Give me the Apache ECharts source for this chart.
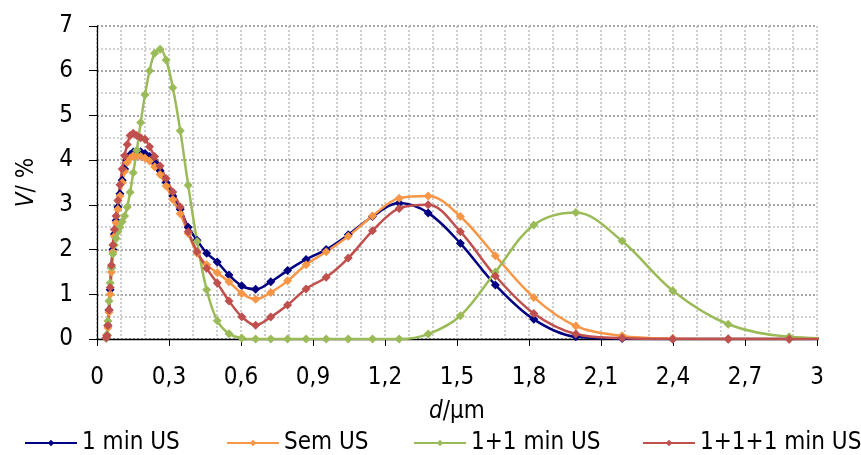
<!DOCTYPE html>
<html>
<head>
<meta charset="utf-8">
<script src="https://cdn.jsdelivr.net/npm/echarts@6/dist/echarts.min.js"></script>
<style>
  html, body { margin: 0; padding: 0; background: #fff; }
  #chart { width: 861px; height: 455px; }
</style>
</head>
<body>
<div id="chart"></div>
<script>
// Particle size classes (µm), logarithmically spaced
const sizes = [0.038, 0.0417, 0.0457, 0.0501, 0.055, 0.0603, 0.0661, 0.0724, 0.0794, 0.0871,
  0.0955, 0.105, 0.115, 0.126, 0.138, 0.151, 0.166, 0.182, 0.2, 0.219,
  0.24, 0.263, 0.288, 0.316, 0.347, 0.38, 0.417, 0.457, 0.501, 0.55,
  0.603, 0.661, 0.724, 0.794, 0.871, 0.955, 1.047, 1.148, 1.259, 1.38,
  1.514, 1.66, 1.82, 1.995, 2.188, 2.399, 2.63, 2.884, 3.162];

// Volume fractions V (%) per size class
const oneMinUS = [0.02, 0.08, 0.3, 0.65, 1.1, 1.6, 2.0, 2.35, 2.65, 2.95,
  3.25, 3.55, 3.8, 4.0, 4.12, 4.18, 4.2, 4.19, 4.15, 4.08,
  3.95, 3.76, 3.5, 3.2, 2.9, 2.5, 2.21, 1.92, 1.72, 1.43,
  1.19, 1.11, 1.28, 1.53, 1.78, 2.0, 2.33, 2.74, 3.04, 2.82,
  2.14, 1.21, 0.44, 0.05, 0.01, 0, 0, 0, 0];

const semUS = [0.02, 0.07, 0.25, 0.6, 1.0, 1.5, 1.95, 2.3, 2.6, 2.9,
  3.2, 3.5, 3.75, 3.95, 4.05, 4.1, 4.1, 4.08, 4.05, 3.98,
  3.85, 3.68, 3.42, 3.12, 2.8, 2.36, 1.92, 1.66, 1.48, 1.28,
  1.02, 0.89, 1.04, 1.3, 1.66, 1.95, 2.3, 2.75, 3.15, 3.2,
  2.74, 1.86, 0.93, 0.29, 0.07, 0.01, 0, 0, 0];

const twoMinUS = [0.02, 0.1, 0.4, 0.85, 1.25, 1.6, 1.9, 2.1, 2.25, 2.4,
  2.5, 2.62, 2.75, 2.95, 3.28, 3.72, 4.22, 4.84, 5.46, 6.0,
  6.39, 6.48, 6.24, 5.62, 4.66, 3.44, 2.18, 1.1, 0.41, 0.12,
  0.02, 0, 0, 0, 0, 0, 0, 0, 0, 0.11,
  0.52, 1.5, 2.55, 2.83, 2.19, 1.08, 0.33, 0.05, 0.01];

const threeMinUS = [0.03, 0.08, 0.3, 0.65, 1.15, 1.65, 2.1, 2.45, 2.75, 3.1,
  3.45, 3.8, 4.1, 4.35, 4.55, 4.6, 4.55, 4.5, 4.47, 4.3,
  4.08, 3.87, 3.59, 3.29, 2.95, 2.4, 1.95, 1.58, 1.25, 0.85,
  0.5, 0.31, 0.49, 0.76, 1.12, 1.38, 1.81, 2.42, 2.92, 3.0,
  2.4, 1.41, 0.57, 0.11, 0.02, 0, 0, 0, 0];

const seriesNames = ['1 min US', 'Sem US', '1+1 min US', '1+1+1 min US'];
const seriesValues = [oneMinUS, semUS, twoMinUS, threeMinUS];
const seriesColors = ['#000080', '#F79646', '#9BBB59', '#C0504D'];

// Axis tick labels
const xTicks = [0, 0.3, 0.6, 0.9, 1.2, 1.5, 1.8, 2.1, 2.4, 2.7, 3];
const yTicks = [0, 1, 2, 3, 4, 5, 6, 7];

const FONT = "'DejaVu Sans Condensed', 'DejaVu Sans', sans-serif";
const FS = 24;

const chart = echarts.init(document.getElementById('chart'), null, { renderer: 'canvas' });

const fmtComma = v => String(+(+v).toFixed(1)).replace('.', ',');

const legendLeft = [24, 226, 413, 642];

const option = {
  animation: false,
  backgroundColor: '#ffffff',
  textStyle: { fontFamily: FONT },
  grid: { left: 97, right: 44, top: 26, bottom: 116, containLabel: false },
  legend: seriesNames.map((n, i) => ({
    data: [n],
    left: legendLeft[i],
    top: 431,
    padding: 0,
    itemWidth: 52,
    itemHeight: 8,
    itemGap: 6,
    textStyle: { fontFamily: FONT, fontSize: FS, color: '#000' }
  })),
  xAxis: {
    type: 'value',
    min: xTicks[0],
    max: xTicks[xTicks.length - 1],
    interval: 0.3,
    name: '{i|d}/µm',
    nameLocation: 'middle',
    nameGap: 61,
    nameTextStyle: {
      fontFamily: FONT, fontSize: FS, color: '#000',
      rich: { i: { fontStyle: 'italic', fontFamily: FONT, fontSize: FS, color: '#000' } }
    },
    axisLine: { show: true, onZero: false, lineStyle: { color: '#000', width: 1.3 } },
    axisTick: { show: true, inside: false, length: 7, lineStyle: { color: '#000', width: 1 } },
    axisLabel: { margin: 27, fontFamily: FONT, fontSize: FS, color: '#000', formatter: fmtComma },
    splitLine: { show: true, lineStyle: { color: '#bdbdbd', width: 1.5, type: [2, 2] } },
    minorTick: { show: false, splitNumber: 3 },
    minorSplitLine: { show: true, lineStyle: { color: '#bdbdbd', width: 1.5, type: [2, 2] } }
  },
  yAxis: {
    type: 'value',
    min: yTicks[0],
    max: yTicks[yTicks.length - 1],
    interval: 1,
    name: '{i|V}/ %',
    nameLocation: 'middle',
    nameGap: 58,
    nameRotate: 90,
    nameTextStyle: {
      fontFamily: FONT, fontSize: FS, color: '#000',
      rich: { i: { fontStyle: 'italic', fontFamily: FONT, fontSize: FS, color: '#000' } }
    },
    axisLine: { show: true, lineStyle: { color: '#000', width: 1.3 } },
    axisTick: { show: true, inside: false, length: 8, lineStyle: { color: '#000', width: 1 } },
    axisLabel: { margin: 24, fontFamily: FONT, fontSize: FS, color: '#000' },
    splitLine: { show: true, lineStyle: { color: '#8a8a8a', width: 1.5, type: [2, 2] } },
    minorTick: { show: false, splitNumber: 2 },
    minorSplitLine: { show: true, lineStyle: { color: '#c4c4c4', width: 1.5, type: [2, 2] } }
  },
  series: seriesNames.map((n, i) => ({
    name: n,
    type: 'line',
    smooth: 0.35,
    clip: true,
    symbol: 'diamond',
    symbolSize: 9,
    showAllSymbol: true,
    color: seriesColors[i],
    lineStyle: { color: seriesColors[i], width: 2.5 },
    itemStyle: { color: seriesColors[i] },
    emphasis: { disabled: true },
    data: sizes.map((d, k) => [d, seriesValues[i][k]])
  }))
};

chart.setOption(option);
</script>
</body>
</html>
